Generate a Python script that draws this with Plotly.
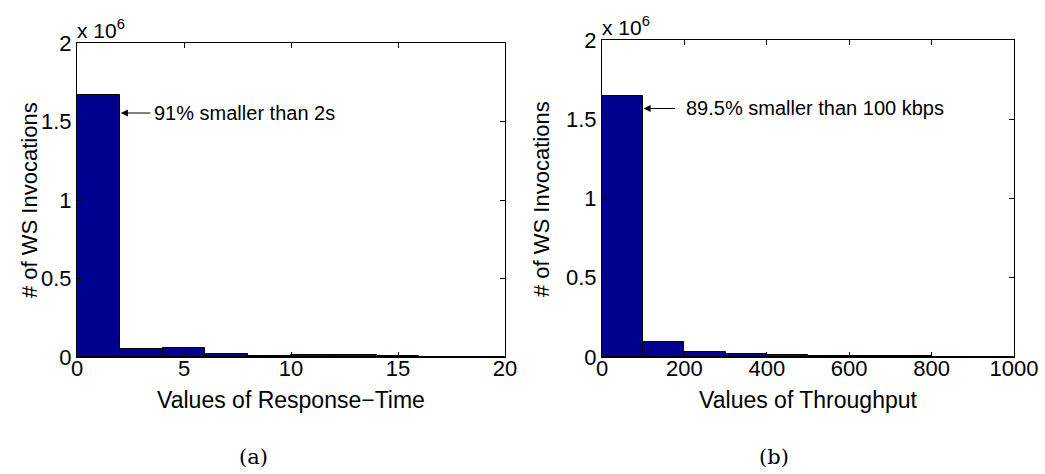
import plotly.graph_objects as go

# ---- data ----
rt_bin_centers = [1, 3, 5, 7, 9, 11, 13, 15, 17, 19]
rt_counts = [1668000, 51000, 57000, 21000, 8000, 12000, 12000, 6000, 2000, 2000]

tp_bin_centers = [50, 150, 250, 350, 450, 550, 650, 750, 850, 950]
tp_counts = [1644000, 94500, 31800, 16000, 12500, 8000, 8000, 4000, 2000, 1500]

rt_xticks = [0, 5, 10, 15, 20]
tp_xticks = [0, 200, 400, 600, 800, 1000]
y_tickvals = [0, 500000, 1000000, 1500000, 2000000]
y_ticktext = ["0", "0.5", "1", "1.5", "2"]

W, H = 1045, 474
FONT = "Liberation Sans, Arial, Helvetica, sans-serif"
FS_TICK = 22
FS_TITLE = 23
FS_YTITLE = 22
FS_NOTE = 20
BAR_COLOR = "#00008F"

fig = go.Figure()

fig.add_trace(go.Bar(x=rt_bin_centers, y=rt_counts, width=2,
                     marker=dict(color=BAR_COLOR, line=dict(color="black", width=1)),
                     xaxis="x", yaxis="y", showlegend=False))
fig.add_trace(go.Bar(x=tp_bin_centers, y=tp_counts, width=100,
                     marker=dict(color=BAR_COLOR, line=dict(color="black", width=1)),
                     xaxis="x2", yaxis="y2", showlegend=False))


def px_x(p):
    return p / W


def px_y(p):
    return 1 - p / H


axis_common = dict(showline=True, linecolor="black", linewidth=1, mirror="allticks",
                   ticks="inside", ticklen=5, tickcolor="black", showgrid=False,
                   zeroline=False, automargin=False,
                   tickfont=dict(family=FONT, size=FS_TICK, color="black"))

fig.update_layout(
    width=W, height=H,
    margin=dict(l=0, r=0, t=0, b=0, autoexpand=False),
    paper_bgcolor="white", plot_bgcolor="white",
    bargap=0,
    font=dict(family=FONT, size=FS_TICK, color="black"),
    xaxis=dict(domain=[px_x(77), px_x(505)], range=[0, 20], anchor="y",
               tickvals=rt_xticks, ticktext=[str(v) for v in rt_xticks],
               ticklabelstandoff=-8,
               title=dict(text="Values of Response\u2212Time", standoff=11,
                          font=dict(family=FONT, size=FS_TITLE)),
               **axis_common),
    yaxis=dict(domain=[px_y(357), px_y(43)], range=[0, 2000000], anchor="x",
               tickvals=y_tickvals, ticktext=y_ticktext, **axis_common),
    xaxis2=dict(domain=[px_x(602), px_x(1014)], range=[0, 1000], anchor="y2",
                tickvals=tp_xticks, ticktext=[str(v) for v in tp_xticks],
                ticklabelstandoff=-8,
                title=dict(text="Values of Throughput", standoff=11,
                           font=dict(family=FONT, size=FS_TITLE)),
                **axis_common),
    yaxis2=dict(domain=[px_y(357), px_y(40)], range=[0, 2000000], anchor="x2",
                tickvals=y_tickvals, ticktext=y_ticktext, **axis_common),
)

annotations = []
# y-axis titles
for xc, yc in [(30, 200), (541, 199)]:
    annotations.append(dict(text="# of WS Invocations", xref="paper", yref="paper",
                            x=px_x(xc), y=px_y(yc), textangle=-90, showarrow=False,
                            xanchor="center", yanchor="middle",
                            font=dict(family=FONT, size=FS_YTITLE, color="black")))
# exponent labels
for xl, yb in [(75, 44), (600, 41)]:
    annotations.append(dict(text="x 10<sup>6</sup>", xref="paper", yref="paper",
                            x=px_x(xl), y=px_y(yb), showarrow=False,
                            xanchor="left", yanchor="bottom",
                            font=dict(family=FONT, size=21, color="black")))
# arrows
annotations.append(dict(x=2.05, y=1554000, xref="x", yref="y", text="", showarrow=True,
                        ax=31, ay=0, arrowhead=2, arrowsize=1.4, arrowwidth=1,
                        arrowcolor="black"))
annotations.append(dict(x=3.5, y=1554000, xref="x", yref="y",
                        text="91% smaller than 2s", showarrow=False,
                        xanchor="left", yanchor="middle",
                        font=dict(family=FONT, size=FS_NOTE, color="black")))
annotations.append(dict(x=101, y=1568000, xref="x2", yref="y2", text="", showarrow=True,
                        ax=33, ay=0, arrowhead=2, arrowsize=1.4, arrowwidth=1,
                        arrowcolor="black"))
annotations.append(dict(x=199, y=1568000, xref="x2", yref="y2",
                        text="89.5% smaller than 100 kbps", showarrow=False,
                        xanchor="left", yanchor="middle",
                        font=dict(family=FONT, size=FS_NOTE, color="black")))
# sub-figure captions
for xc, lab in [(253, "(a)"), (774, "(b)")]:
    annotations.append(dict(text=lab, xref="paper", yref="paper",
                            x=px_x(xc), y=px_y(457), showarrow=False,
                            xanchor="center", yanchor="middle",
                            font=dict(family="DejaVu Serif, serif", size=21, color="black")))

fig.update_layout(annotations=annotations)

fig.write_html("out.html")
